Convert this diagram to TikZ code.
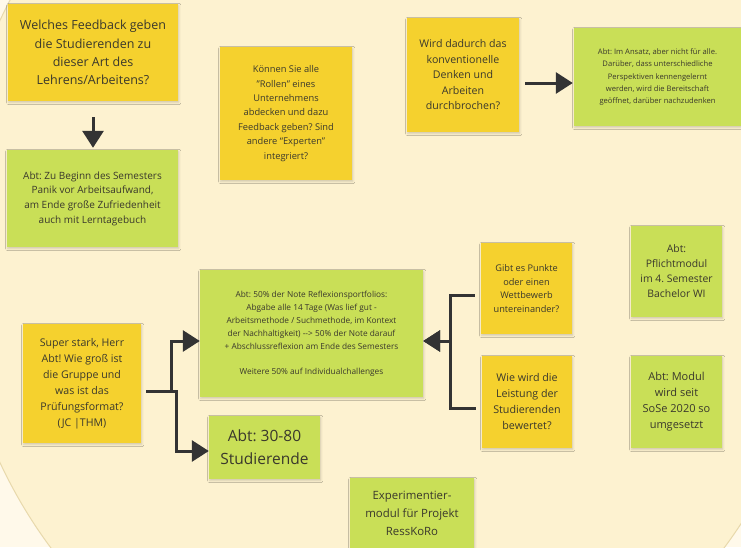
\documentclass[tikz,border=0pt]{standalone}
\usepackage{fontspec}
\setmainfont{Open Sans}
\frenchspacing
\usetikzlibrary{arrows.meta,shadows.blur}
\definecolor{bgout}{HTML}{FFF9EA}
\definecolor{cream}{HTML}{FDF2D0}
\definecolor{rim}{HTML}{E8D9AC}
\definecolor{yellownote}{HTML}{F5D12E}
\definecolor{greennote}{HTML}{C9DF57}
\definecolor{ink}{HTML}{3A382C}
\definecolor{arrowc}{HTML}{333333}
\tikzset{
  note/.style={inner sep=0pt, align=center, text=ink,
    blur shadow={shadow xshift=0.8pt, shadow yshift=-1.5pt, shadow blur steps=4, shadow opacity=18}},
  qbox/.style={note, fill=yellownote},
  abox/.style={note, fill=greennote},
  conn/.style={draw=arrowc, line width=3pt, -{Triangle[length=17pt,width=21pt]}},
}
\begin{document}
\begin{tikzpicture}[x=1pt,y=-1pt]
\useasboundingbox (0,0) rectangle (741,547);
\fill[bgout] (0,0) rectangle (741,547);
\begin{scope}
  \clip (0,0) rectangle (741,547);
  \fill[cream, draw=rim, line width=1pt] (387.5,241.5) ellipse [x radius=436pt, y radius=482pt];
\end{scope}

\node[qbox, minimum width=170pt, minimum height=97pt, font=\fontsize{12.5}{18.3}\selectfont] (q1) at (93,52.5)
  {Welches Feedback geben\\die Studierenden zu\\dieser Art des\\Lehrens/Arbeitens?};
\node[abox, minimum width=171pt, minimum height=97pt, font=\fontsize{10}{14.7}\selectfont] (a1) at (92.5,198.5)
  {Abt: Zu Beginn des Semesters\\Panik vor Arbeitsaufwand,\\am Ende große Zufriedenheit\\auch mit Lerntagebuch};
\node[qbox, minimum width=132pt, minimum height=133pt, font=\fontsize{9.3}{14.4}\selectfont] (q2) at (286,113.5)
  {Können Sie alle\\"Rollen" eines\\Unternehmens\\abdecken und dazu\\Feedback geben? Sind\\andere “Experten”\\integriert?};
\node[qbox, minimum width=112pt, minimum height=114pt, font=\fontsize{10.6}{15.5}\selectfont] (q3) at (463,75)
  {Wird dadurch das\\konventionelle\\Denken und\\Arbeiten\\durchbrochen?};
\node[abox, minimum width=167pt, minimum height=98pt, font=\fontsize{7.6}{12}\selectfont] (a3) at (657.5,77)
  {Abt: Im Ansatz, aber nicht für alle.\\Darüber, dass unterschiedliche\\Perspektiven kennengelernt\\werden, wird die Bereitschaft\\geöffnet, darüber nachzudenken};
\node[abox, minimum width=223pt, minimum height=127pt, font=\fontsize{8.3}{13}\selectfont] (a4) at (311.5,333.5)
  {Abt: 50\% der Note Reflexionsportfolios:\\Abgabe alle 14 Tage (Was lief gut -\\Arbeitsmethode / Suchmethode, im Kontext\\der Nachhaltigkeit) -{}-> 50\% der Note darauf\\+ Abschlussreflexion am Ende des Semesters\\[12pt]Weitere 50\% auf Individualchallenges};
\node[qbox, minimum width=118pt, minimum height=119pt, font=\fontsize{10.6}{16}\selectfont] (q4) at (82,383.5)
  {Super stark, Herr\\Abt! Wie groß ist\\die Gruppe und\\was ist das\\Prüfungsformat?\\(JC |THM)};
\node[abox, minimum width=111pt, minimum height=63pt, font=\fontsize{15.5}{23}\selectfont] (a5) at (264.5,447.5)
  {Abt: 30-80\\Studierende};
\node[qbox, minimum width=91pt, minimum height=91pt, font=\fontsize{9.2}{13.7}\selectfont] (q5) at (526.5,288.5)
  {Gibt es Punkte\\oder einen\\Wettbewerb\\untereinander?};
\node[qbox, minimum width=90pt, minimum height=92pt, font=\fontsize{10.7}{16}\selectfont] (q6) at (527,402)
  {Wie wird die\\Leistung der\\Studierenden\\bewertet?};
\node[abox, minimum width=91pt, minimum height=91pt, font=\fontsize{10.4}{15}\selectfont] (a6) at (676.5,271.5)
  {Abt:\\Pflichtmodul\\im 4. Semester\\Bachelor WI};
\node[abox, minimum width=91pt, minimum height=92pt, font=\fontsize{11}{16}\selectfont] (a7) at (676.5,402)
  {Abt: Modul\\wird seit\\SoSe 2020 so\\umgesetzt};
\node[abox, minimum width=124pt, minimum height=70pt, font=\fontsize{11.4}{18}\selectfont] (a8) at (412,513)
  {Experimentier-\\modul für Projekt\\RessKoRo};

% connectors
\draw[conn, shorten <=16pt, shorten >=2pt] (q1.south) -- (q1.south |- a1.north);
\draw[conn, shorten <=6pt, shorten >=1pt] ([yshift=-8pt]q3.east) -- ([yshift=-8pt]q3.east -| a3.west);
\coordinate (j1) at (171,391);
\coordinate (j2) at (176,391);
\coordinate (j3) at (450,341);
\draw[conn, shorten <=5pt] ([yshift=-7.5pt]q4.east) -- (j1) |- ([yshift=-7.5pt]a4.west);
\draw[conn, shorten <=5pt] ([yshift=-7.5pt]q4.east) -- (j2) |- ([yshift=-3.5pt]a5.west);
\draw[conn, shorten <=6pt] ([yshift=-6.5pt]q5.west) -| (j3) -- ([yshift=-7.5pt]a4.east);
\draw[conn, shorten <=6pt] ([yshift=-6pt]q6.west) -| (j3) -- ([yshift=-7.5pt]a4.east);
\end{tikzpicture}
\end{document}
